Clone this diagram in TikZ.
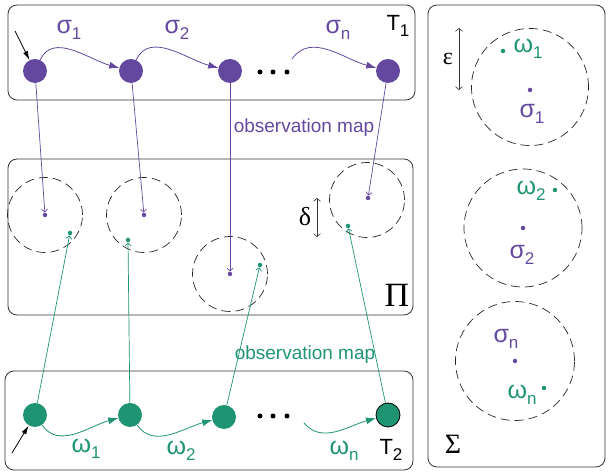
\documentclass[tikz,border=0pt]{standalone}
\usepackage{fontspec}
\setmainfont{Liberation Sans}
\newfontfamily\serifgr{Liberation Serif}
\usetikzlibrary{arrows.meta}
\definecolor{pur}{RGB}{100,72,160}
\definecolor{grn}{RGB}{30,148,115}
\newcommand{\lowsub}[1]{\raisebox{-0.45ex}{\fontsize{17}{17}\selectfont #1}}
\tikzset{
  panel/.style={draw=black!80,line width=0.8pt,rounded corners=9pt},
  pnode/.style={circle,fill=pur,minimum size=24pt,inner sep=0pt},
  gnode/.style={circle,fill=grn,minimum size=24pt,inner sep=0pt},
  pdot/.style={circle,fill=pur,minimum size=4.5pt,inner sep=0pt},
  gdot/.style={circle,fill=grn,minimum size=4.5pt,inner sep=0pt},
  bdot/.style={circle,fill=black,minimum size=5pt,inner sep=0pt},
  ring/.style={circle,draw=black!85,line width=0.7pt,dash pattern=on 9pt off 5pt,inner sep=0pt},
  parc/.style={draw=pur,line width=0.8pt,-{Latex[length=10pt,width=7pt]}},
  garc/.style={draw=grn,line width=0.8pt,-{Latex[length=10pt,width=7pt]}},
  pobs/.style={draw=pur,line width=0.7pt,-{Straight Barb[length=3pt,width=6pt]}},
  gobs/.style={draw=grn,line width=0.7pt,-{Straight Barb[length=3pt,width=6pt]}},
  init/.style={draw=black,line width=0.8pt,-{Latex[length=9pt,width=5pt]}},
  dimarr/.style={draw=black!80,line width=0.6pt,{Straight Barb[length=3pt,width=7pt]}-{Straight Barb[length=3pt,width=7pt]}},
  plab/.style={text=pur,font=\fontsize{25}{25}\selectfont,inner sep=0pt},
  glab/.style={text=grn,font=\fontsize{25}{25}\selectfont,inner sep=0pt},
  tlab/.style={text=black,font=\fontsize{22}{22}\selectfont,inner sep=0pt},
  obslab/.style={font=\fontsize{19}{19}\selectfont,inner sep=0pt},
}
\begin{document}
\begin{tikzpicture}[x=1pt,y=1pt]
\useasboundingbox (0,0) rectangle (608,473);
% panels
\draw[panel] (8,468) rectangle (415,373);
\draw[panel] (8,314) rectangle (413,158);
\draw[panel] (5,102) rectangle (413,3);
\draw[panel] (428,468) rectangle (605,6);
% Pi panel circles
\node[ring,minimum size=75pt] (c1) at (45,258) {};
\node[ring,minimum size=75pt] (c2) at (144,258) {};
\node[ring,minimum size=75pt] (c3) at (230,199) {};
\node[ring,minimum size=75pt] (c4) at (367,273) {};
\node[pdot] (a1) at (45,258) {};
\node[pdot] (a2) at (144,258) {};
\node[pdot] (a3) at (230,199) {};
\node[pdot] (a4) at (368,275) {};
\node[gdot] (b1) at (70,240) {};
\node[gdot] (b2) at (128,233) {};
\node[gdot] (b3) at (260,208) {};
\node[gdot] (b4) at (348,247) {};
\coordinate (dt) at (317,275);
\coordinate (db) at (317,236);
\draw[dimarr] (dt) -- (db);
\node[font=\serifgr\fontsize{26}{26}\selectfont,inner sep=0pt] (delta) at (305,256) {δ};
\node[font=\serifgr\fontsize{34}{34}\selectfont,inner sep=0pt] (Pi) at (397,178) {Π};
% T1
\node[pnode] (p1) at (35,402) {};
\node[pnode] (p2) at (131,402) {};
\node[pnode] (p3) at (230,402) {};
\node[pnode] (pn) at (388,402) {};
\node[bdot] (d1) at (260,401) {};
\node[bdot] (d2) at (273,401) {};
\node[bdot] (d3) at (287,401) {};
\coordinate (pfree) at (292,414);
\coordinate (pinit) at (15,442);
\draw[parc] (p1) to[out=65,in=165] (p2);
\draw[parc] (p2) to[out=65,in=165] (p3);
\draw[parc] (pfree) to[out=55,in=165] (pn);
\draw[init] (pinit) -- (p1);
\node[plab] (sig1) at (69,443) {σ\lowsub{1}};
\node[plab] (sig2) at (177,443) {σ\lowsub{2}};
\node[plab] (sign) at (338,443) {σ\lowsub{n}};
\node[tlab] (T1) at (398,447) {T\lowsub{1}};
% T2
\node[gnode] (g1) at (35,58) {};
\node[gnode] (g2) at (130,58) {};
\node[gnode] (g3) at (224,56) {};
\node[gnode,draw=black,line width=0.8pt] (gn) at (388,58) {};
\node[bdot] (e1) at (260,57) {};
\node[bdot] (e2) at (273,57) {};
\node[bdot] (e3) at (287,57) {};
\coordinate (gfree) at (304,50);
\coordinate (ginit) at (12,20);
\draw[garc] (g1) to[out=-55,in=195] (g2);
\draw[garc] (g2) to[out=-55,in=195] (g3);
\draw[garc] (gfree) to[out=-50,in=195] (gn);
\draw[init] (ginit) -- (g1);
\node[glab] (om1) at (86,24) {ω\lowsub{1}};
\node[glab] (om2) at (181,22) {ω\lowsub{2}};
\node[glab] (omn) at (344,22) {ω\lowsub{n}};
\node[tlab] (T2) at (391,23) {T\lowsub{2}};
% observation maps
\draw[pobs] (p1) -- (a1);
\draw[pobs] (p2) -- (a2);
\draw[pobs] (p3) -- (a3);
\draw[pobs] (pn) -- (a4);
\draw[gobs] (g1) -- (b1);
\draw[gobs] (g2) -- (b2);
\draw[gobs] (g3) -- (b3);
\draw[gobs] (gn) -- (b4);
\node[obslab,text=pur] (obs1) at (304,345) {observation map};
\node[obslab,text=grn] (obs2) at (305,118) {observation map};
% Sigma panel
\node[ring,minimum size=117pt] (s1) at (530,386) {};
\node[ring,minimum size=118pt] (s2) at (523,245) {};
\node[ring,minimum size=119pt] (s3) at (515,112) {};
\node[pdot] (q1) at (530,383) {};
\node[pdot] (q2) at (523,245) {};
\node[pdot] (q3) at (515,112) {};
\node[gdot] (r1) at (503,422) {};
\node[gdot] (r2) at (555,283) {};
\node[gdot] (r3) at (544,85) {};
\node[glab] (so1) at (528,424) {ω\lowsub{1}};
\node[plab] (ss1) at (532,359) {σ\lowsub{1}};
\node[glab] (so2) at (531,282) {ω\lowsub{2}};
\node[plab] (ss2) at (522,218) {σ\lowsub{2}};
\node[plab] (ssn) at (506,134) {σ\lowsub{n}};
\node[glab] (son) at (522,78) {ω\lowsub{n}};
\coordinate (et) at (459,445);
\coordinate (eb) at (459,383);
\draw[dimarr] (et) -- (eb);
\node[font=\serifgr\fontsize{24}{24}\selectfont,inner sep=0pt] (eps) at (448,414) {ε};
\node[font=\serifgr\fontsize{28}{28}\selectfont,inner sep=0pt] (Sig) at (453,29) {Σ};
\end{tikzpicture}
\end{document}
